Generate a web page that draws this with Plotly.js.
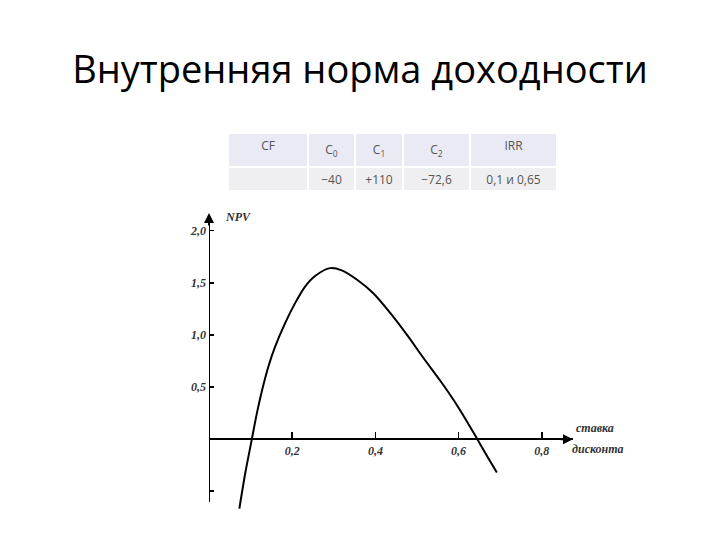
<!DOCTYPE html>
<html>
<head>
<meta charset="utf-8">
<script src="https://cdn.plot.ly/plotly-3.0.1.min.js"></script>
<style>html,body{margin:0;padding:0;background:#fff;}#chart{width:720px;height:540px;}</style>
</head>
<body>
<div id="chart"></div>
<script>
// Data
const rates = [0.073, 0.087, 0.103, 0.115, 0.127, 0.143, 0.159, 0.183, 0.207, 0.231, 0.255, 0.291, 0.319, 0.356, 0.395, 0.436, 0.476, 0.516, 0.556, 0.588, 0.620, 0.642, 0.668, 0.692];
const npv   = [-0.666, -0.33, 0.0, 0.247, 0.46, 0.70, 0.887, 1.113, 1.305, 1.464, 1.565, 1.641, 1.62, 1.53, 1.40, 1.209, 1.0, 0.776, 0.56, 0.375, 0.17, 0.02, -0.16, -0.32];
const xTickVals = [0.2, 0.4, 0.6, 0.8];
const xTickText = ['0,2', '0,4', '0,6', '0,8'];
const yTickVals = [-0.5, 0.5, 1.0, 1.5, 2.0];
const yTickText = ['', '0,5', '1,0', '1,5', '2,0'];
const tableHeader = ['CF', 'C<sub>0</sub>', 'C<sub>1</sub>', 'C<sub>2</sub>', 'IRR'];
const tableRow = ['', '\u221240', '+110', '\u221272,6', '0,1 и 0,65'];
const titleText = 'Внутренняя норма доходности';
const yLabel = 'NPV';
const xLabel = ['ставка', 'дисконта'];

// Layout geometry
const W = 720, H = 540;
const xMin = 0, xMax = 0.875, yMin = -0.68, yMax = 2.17;
const plotLeft = 209, plotRight = 573, plotTop = 213, plotBottom = 510;
const xDom = [plotLeft / W, plotRight / W];
const yDom = [1 - plotBottom / H, 1 - plotTop / H];
const xAxisPos = yDom[0] + (0 - yMin) / (yMax - yMin) * (yDom[1] - yDom[0]);

const serif = {family: 'Liberation Serif, DejaVu Serif, serif', size: 12, color: '#333', style: 'italic', weight: 700};

const traces = [
  {
    type: 'scatter', mode: 'lines', x: rates, y: npv,
    line: {color: '#000', width: 2, shape: 'spline', smoothing: 0.8},
    hoverinfo: 'skip', showlegend: false
  },
  {
    type: 'table',
    domain: {x: [228 / W, 557 / W], y: [1 - 190 / H, 1 - 133 / H]},
    columnwidth: [80, 47, 48, 67, 87],
    header: {
      values: tableHeader,
      fill: {color: '#e9eaf3'},
      line: {color: '#ffffff', width: 2},
      align: 'center', height: 27,
      font: {family: 'Open Sans, sans-serif', size: 12, color: '#555'}
    },
    cells: {
      values: tableRow.map(v => [v]),
      fill: {color: '#efeff1'},
      line: {color: '#ffffff', width: 2},
      align: 'center', height: 28,
      font: {family: 'Open Sans, sans-serif', size: 12, color: '#555'}
    }
  }
];

const layout = {
  width: W, height: H,
  margin: {l: 0, r: 0, t: 0, b: 0, pad: 0},
  paper_bgcolor: '#fff', plot_bgcolor: 'rgba(0,0,0,0)',
  showlegend: false,
  title: {
    text: titleText, x: 0.5, xanchor: 'center', y: 1 - 70 / H, yanchor: 'middle', yref: 'container',
    font: {family: 'Open Sans, sans-serif', size: 38, color: '#000'}
  },
  xaxis: {
    domain: xDom, range: [xMin, xMax], anchor: 'free', position: xAxisPos,
    showline: true, linecolor: '#000', linewidth: 2,
    showgrid: false, zeroline: false,
    ticks: 'inside', ticklen: 6, tickwidth: 1.5, tickcolor: '#000',
    tickmode: 'array', tickvals: xTickVals, ticktext: xTickText,
    tickfont: serif, fixedrange: true
  },
  yaxis: {
    domain: yDom, range: [yMin, yMax],
    showline: false, showgrid: false, zeroline: false,
    ticks: 'inside', ticklen: 5, tickwidth: 1.5, tickcolor: '#000',
    tickmode: 'array', tickvals: yTickVals, ticktext: yTickText,
    tickfont: serif, ticklabelstandoff: 2, fixedrange: true
  },
  shapes: [
    {type: 'line', xref: 'x', yref: 'y', x0: 0, x1: 0, y0: -0.6, y1: yMax - 0.02,
     line: {color: '#000', width: 2}}
  ],
  annotations: [
    {xref: 'x', yref: 'y', x: 0, y: yMax, ax: 0, ay: 14, showarrow: true,
     arrowhead: 2, arrowsize: 1, arrowwidth: 2, arrowcolor: '#000', standoff: 0, text: ''},
    {xref: 'x', yref: 'y', x: xMax, y: 0, ax: -14, ay: 0, showarrow: true,
     arrowhead: 2, arrowsize: 1, arrowwidth: 2, arrowcolor: '#000', standoff: 0, text: ''},
    {xref: 'x', yref: 'y', x: 0.034, y: 2.13, xanchor: 'left', yanchor: 'middle', showarrow: false,
     text: yLabel, font: serif},
    {xref: 'paper', yref: 'paper', x: 574 / W, y: 1 - 428 / H, xanchor: 'left', yanchor: 'middle', showarrow: false,
     text: xLabel[0], font: serif},
    {xref: 'paper', yref: 'paper', x: 570 / W, y: 1 - 449 / H, xanchor: 'left', yanchor: 'middle', showarrow: false,
     text: xLabel[1], font: serif}
  ]
};

Plotly.newPlot('chart', traces, layout, {staticPlot: true, displayModeBar: false});
</script>
</body>
</html>
